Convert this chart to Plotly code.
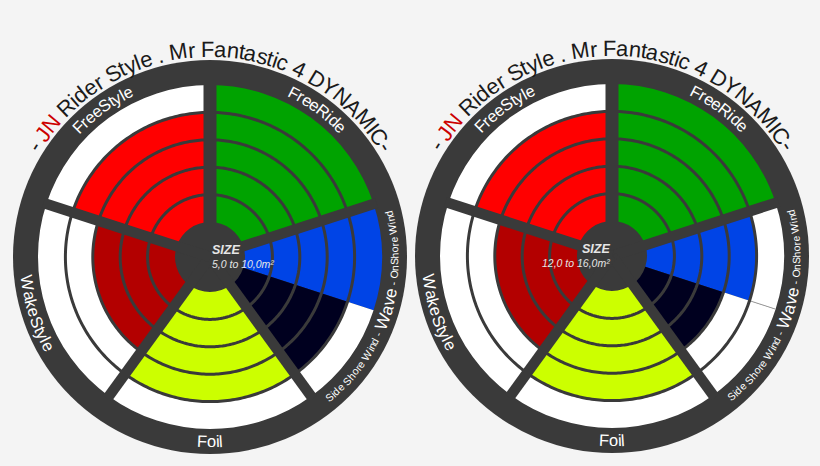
import numpy as np
import plotly.graph_objects as go

# ---------------- data ----------------
style_names = ["FreeRide", "Wave OnShore Wind", "Wave Side Shore Wind", "Foil", "WakeStyle", "FreeStyle"]
sector_of_style = [0, 1, 1, 2, 3, 4]          # wheel sector each style belongs to
sector_names = ["FreeRide", "Wave", "Foil", "WakeStyle", "FreeStyle"]
levels_5_10 = [5, 5, 4, 4, 3, 4]              # rating (out of 5) for 5,0-10,0 m²
levels_12_16 = [5, 4, 3, 4, 3, 4]             # rating (out of 5) for 12,0-16,0 m²
max_level = 5
size_ranges = ["5,0 to 10,0m²", "12,0 to 16,0m²"]
title_parts = [("- ", "dark"), ("JN", "red"), (" Rider Style . Mr Fantastic 4 DYNAMIC-", "dark")]
wave_label_parts = [("Side Shore Wind - ", "small"), ("Wave", "big"), (" - OnShore Wind", "small")]

# ---------------- style ----------------
W, H = 820, 466
BG = "#f4f4f4"
DARK = "#3a3a3a"
FONT = "Liberation Sans, Arial, sans-serif"
style_colors = ["#00a300", "#0044e6", "#00001f", "#ccff00", "#b30000", "#ff0000"]
centers = [(210, 257), (612, 256)]
R_OUT, R_IN, R0 = 197.0, 172.0, 35.0
RW = (R_IN - R0) / max_level

CW = {' ': 278, '-': 333, '.': 278, ',': 278, '²': 333,
      'A': 667, 'B': 667, 'C': 722, 'D': 722, 'E': 667, 'F': 611, 'G': 778, 'H': 722, 'I': 278,
      'J': 500, 'K': 667, 'L': 556, 'M': 833, 'N': 722, 'O': 778, 'P': 667, 'Q': 778, 'R': 722,
      'S': 667, 'T': 611, 'U': 722, 'V': 667, 'W': 944, 'X': 667, 'Y': 667, 'Z': 611,
      'a': 556, 'b': 556, 'c': 500, 'd': 556, 'e': 556, 'f': 278, 'g': 556, 'h': 556, 'i': 222,
      'j': 222, 'k': 500, 'l': 222, 'm': 833, 'n': 556, 'o': 556, 'p': 556, 'q': 556, 'r': 333,
      's': 500, 't': 278, 'u': 556, 'v': 500, 'w': 722, 'x': 500, 'y': 500, 'z': 500}


def cw(c):
    return CW.get(c, 556) / 1000.0


def arc_text(cx, cy, r, center_deg, parts, outward_up):
    total = sum(cw(c) * size for text, size, color in parts for c in text)
    span = total / r
    sign = 1 if outward_up else -1
    start = np.radians(center_deg) - sign * span / 2
    pos = 0.0
    anns = []
    for text, size, color in parts:
        for c in text:
            w = cw(c) * size
            ang = start + sign * (pos + w / 2) / r
            pos += w
            if c == ' ':
                continue
            deg = float(np.degrees(ang))
            px = cx + r * np.sin(ang)
            py = cy - r * np.cos(ang)
            rot = deg if outward_up else deg - 180
            rot = (rot + 180) % 360 - 180
            anns.append(dict(x=px / W, y=1 - py / H, xref="paper", yref="paper", text=c,
                             showarrow=False, textangle=rot, xanchor="center", yanchor="middle",
                             font=dict(size=size, color=color, family=FONT)))
    return anns


n_sectors = len(sector_names)
sec_w = 360.0 / n_sectors

fig = go.Figure()
annotations = []
layout_polars = {}

for ci, levels in enumerate([levels_5_10, levels_12_16]):
    sub = "polar" if ci == 0 else "polar2"
    cx, cy = centers[ci]
    # bars (rings)
    th, wd, bs, rr, cols = [], [], [], [], []
    for i, lv in enumerate(levels):
        s = sector_of_style[i]
        members = [k for k, ss in enumerate(sector_of_style) if ss == s]
        j = members.index(i)
        width = sec_w / len(members)
        c = s * sec_w + j * width + width / 2
        for k in range(max_level):
            th.append(c); wd.append(width); bs.append(R0 + k * RW); rr.append(RW)
            cols.append(style_colors[i] if k < lv else "#ffffff")
    fig.add_trace(go.Barpolar(theta=th, r=rr, base=bs, width=wd, subplot=sub,
                              marker=dict(color=cols, line=dict(width=0)),
                              hoverinfo="skip", showlegend=False))
    # thin split line inside Wave where both halves are white
    wave_idx = [k for k, ss in enumerate(sector_of_style) if ss == 1]
    split_r = R0 + max(levels[k] for k in wave_idx) * RW
    if split_r < R_IN:
        fig.add_trace(go.Scatterpolar(theta=[1.5 * sec_w] * 2,
                                      r=[split_r, R_IN], mode="lines", subplot=sub,
                                      line=dict(color="#9a9a9a", width=1),
                                      hoverinfo="skip", showlegend=False))
    # ring separators
    ring_t, ring_r = [], []
    circ = np.linspace(0, 360, 361)
    for k in range(1, max_level):
        ring_t += list(circ) + [None]
        ring_r += [R0 + k * RW] * len(circ) + [None]
    fig.add_trace(go.Scatterpolar(theta=ring_t, r=ring_r, mode="lines", subplot=sub,
                                  line=dict(color=DARK, width=3), hoverinfo="skip",
                                  showlegend=False, connectgaps=False))
    # sector dividers
    for s in range(n_sectors):
        fig.add_trace(go.Scatterpolar(theta=[s * sec_w, s * sec_w], r=[0, R_IN + 3],
                                      mode="lines", subplot=sub,
                                      line=dict(color=DARK, width=13 if s == 0 else 10.5),
                                      hoverinfo="skip", showlegend=False))

    layout_polars[sub] = dict(
        domain=dict(x=[(cx - R_OUT) / W, (cx + R_OUT) / W],
                    y=[(H - cy - R_OUT) / H, (H - cy + R_OUT) / H]),
        bgcolor=DARK, barmode="overlay",
        radialaxis=dict(range=[0, R_OUT], visible=False, showgrid=False),
        angularaxis=dict(visible=False, rotation=90, direction="clockwise", showgrid=False),
    )

    # texts
    tcol = {"dark": "#1a1a1a", "red": "#cc0000"}
    annotations += arc_text(cx, cy, 207.5, 0, [(t, 22, tcol[c]) for t, c in title_parts], True)
    mid_r = (R_IN + R_OUT) / 2
    sec_center = [s * sec_w + sec_w / 2 for s in range(n_sectors)]
    for s, name in enumerate(sector_names):
        ang = sec_center[s]
        outward = (ang < 90 or ang > 270)
        if name == "Wave":
            sz = {"small": 10.5, "big": 17}
            parts = [(t, sz[k], "white") for t, k in wave_label_parts]
        else:
            parts = [(name, 16.5, "white")]
        annotations += arc_text(cx, cy, mid_r, ang, parts, outward)
    annotations.append(dict(x=cx / W, y=1 - (cy - 7) / H, xref="paper", yref="paper",
                            text="<b><i>SIZE</i></b>", showarrow=False,
                            font=dict(size=12.5, color="#e6e6e6", family=FONT)))
    annotations.append(dict(x=cx / W, y=1 - (cy + 6.5) / H, xref="paper", yref="paper",
                            text="<i>" + size_ranges[ci] + "</i>", showarrow=False,
                            font=dict(size=10.5, color="#e6e6e6", family=FONT)))

fig.update_layout(width=W, height=H, margin=dict(l=0, r=0, t=0, b=0),
                  paper_bgcolor=BG, plot_bgcolor=BG, showlegend=False,
                  annotations=annotations, **layout_polars)

fig.write_html("out.html", config={"displayModeBar": False},
               post_script="document.body.style.margin='0';")
